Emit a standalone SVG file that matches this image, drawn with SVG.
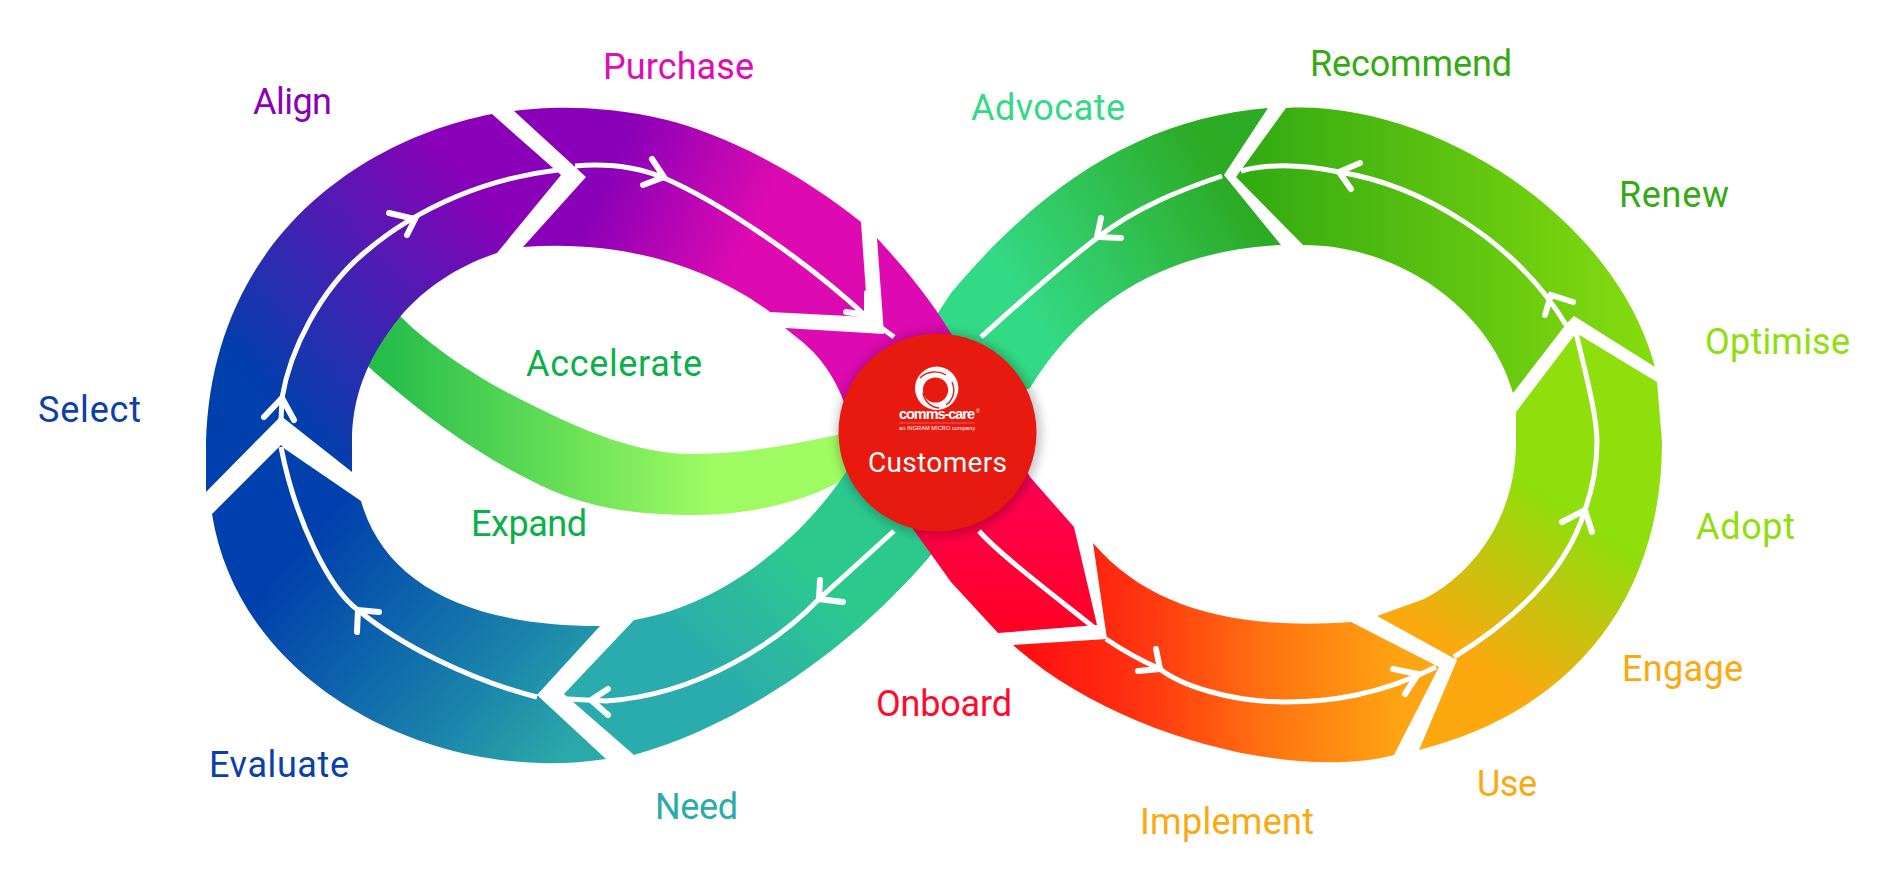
<svg xmlns="http://www.w3.org/2000/svg" width="1902" height="885" viewBox="0 0 1902 885">
<style>
.lbl{font-family:"Roboto","Liberation Sans",sans-serif;font-size:36px;font-weight:400}
.ln{fill:none;stroke:#fff;stroke-width:5;stroke-linecap:butt}
.ah{fill:none;stroke:#fff;stroke-width:6;stroke-linecap:round;stroke-linejoin:miter}
</style>
<defs>
<linearGradient id="gAlign" gradientUnits="userSpaceOnUse" x1="270" y1="400" x2="490" y2="200"><stop offset="0" stop-color="#0040ac"/><stop offset="1" stop-color="#8a00b8"/></linearGradient>
<linearGradient id="gPurch" gradientUnits="userSpaceOnUse" x1="610" y1="170" x2="750" y2="235"><stop offset="0" stop-color="#8a00b8"/><stop offset="1" stop-color="#dc0ab0"/></linearGradient>
<linearGradient id="gOnb" gradientUnits="userSpaceOnUse" x1="0" y1="400" x2="0" y2="630"><stop offset="0" stop-color="#dc0ab0"/><stop offset=".4" stop-color="#ff0050"/><stop offset="1" stop-color="#ff0026"/></linearGradient>
<linearGradient id="gImpl" gradientUnits="userSpaceOnUse" x1="1030" y1="0" x2="1400" y2="0"><stop offset="0" stop-color="#ff1010"/><stop offset=".3" stop-color="#ff3410"/><stop offset=".65" stop-color="#ff7410"/><stop offset="1" stop-color="#ffa412"/></linearGradient>
<linearGradient id="gEng" gradientUnits="userSpaceOnUse" x1="1440" y1="640" x2="1539" y2="489"><stop offset="0" stop-color="#fca910"/><stop offset="1" stop-color="#8edf0c"/></linearGradient>
<linearGradient id="gRec" gradientUnits="userSpaceOnUse" x1="1255" y1="0" x2="1640" y2="0"><stop offset="0" stop-color="#34ab12"/><stop offset="1" stop-color="#84da0e"/></linearGradient>
<linearGradient id="gAdv" gradientUnits="userSpaceOnUse" x1="1020" y1="300" x2="1220" y2="170"><stop offset="0" stop-color="#33da85"/><stop offset="1" stop-color="#2cab25"/></linearGradient>
<linearGradient id="gNeed" gradientUnits="userSpaceOnUse" x1="700" y1="660" x2="800" y2="560"><stop offset="0" stop-color="#2bacac"/><stop offset="1" stop-color="#2cc98f"/></linearGradient>
<linearGradient id="gEval" gradientUnits="userSpaceOnUse" x1="300" y1="550" x2="550" y2="770"><stop offset="0" stop-color="#0040ac"/><stop offset=".7" stop-color="#1b86ab"/><stop offset="1" stop-color="#2ba8a8"/></linearGradient>
<linearGradient id="gAcc" gradientUnits="userSpaceOnUse" x1="385" y1="0" x2="710" y2="0"><stop offset="0" stop-color="#26bd4a"/><stop offset="1" stop-color="#9efb62"/></linearGradient>
<filter id="blur" x="-20%" y="-20%" width="140%" height="140%"><feGaussianBlur stdDeviation="5"/></filter>
</defs>
<g id="accelerate-expand"><path fill="url(#gAcc)" d="M390 305C415 335 470 375 528 403C585 432 640 454 691 454C745 454 800 445 900 420L900 440L846 478C805 503 745 515 697 515C640 515 585 510 528 479C480 455 420 415 350 350Z"/></g>
<g id="advocate"><path fill="url(#gAdv)" d="M1268 108C1150 118 1050 175 951 293L930 325L937 432L1030 388C1090 290 1180 250 1281 245L1224 175Z"/></g>
<g id="need"><path fill="url(#gNeed)" d="M634 755C740 725 850 650 931 555L945 530L937 432L846 472C805 535 725 605 634 620L564 694Z"/></g>
<g id="align-select"><path fill="url(#gAlign)" d="M206 492L281 416L352 472L352 442C352 400 365 360 400 317C425 287 460 265 497 253L561 175L492 114C360 140 212 240 206 442Z"/></g>
<g id="purchase"><path fill="url(#gPurch)" d="M514 111C545 107 600 104 667 120C715 132 790 165 861 222L866 293L868 317L770 312C700 260 610 240 523 247L586 177Z"/></g>
<g id="onboard"><path fill="url(#gOnb)" d="M877 238C895 258 925 290 952 335L1030 477L1074 527L1097 625L998 633L951 582L913 529L846 407C837 383 825 360 800 340L785 328L884 334Z"/></g>
<g id="implement"><path fill="url(#gImpl)" d="M1093 543C1150 610 1240 630 1351 622L1439 667L1394 755C1300 780 1120 740 1013 645L1107 639Z"/></g>
<g id="engage-adopt"><path fill="url(#gEng)" d="M1419 750C1560 715 1662 610 1662 442L1657 382L1576 333L1516 412L1516 442C1516 510 1480 570 1424 599L1377 616L1457 660Z"/></g>
<g id="recommend-renew"><path fill="url(#gRec)" d="M1286 108C1430 100 1615 215 1655 367L1574 316L1567 323L1513 393C1490 310 1400 245 1303 245L1236 177Z"/></g>
<g id="evaluate"><path fill="url(#gEval)" d="M212 514L281 445L285 449L361 501C385 585 470 626 600 626L537 695L606 759C440 785 240 690 212 514Z"/></g>
<g id="connectors">
<path class="ln" d="M281 420L282 398C290 350 320 290 364 253C420 205 490 178 558 170"/>
<path class="ln" d="M575 166C610 163 640 168 664 178C715 200 800 255 868 318L894 337"/>
<path class="ln" d="M981 337C1000 320 1055 270 1097 238C1135 208 1180 190 1222 176"/>
<path class="ln" d="M1241 171C1270 163 1305 165 1339 172C1420 185 1515 240 1566 325"/>
<path class="ln" d="M1576 333C1590 390 1597 420 1597 442C1597 470 1592 490 1585 510C1570 560 1530 610 1454 657"/>
<path class="ln" d="M979 531C1000 555 1060 600 1102 634"/>
<path class="ln" d="M1106 639C1125 652 1140 660 1160 669C1180 685 1230 702 1285 702C1330 702 1380 695 1436 667"/>
<path class="ln" d="M894 531L819 599C780 640 700 695 606 701L567 699"/>
<path class="ln" d="M537 697C470 680 400 645 358 610C330 590 295 520 281 447"/>
<path class="ah" d="M389 213L415 219L407 235"/>
<path class="ah" d="M652 159L664 177L643 185"/>
<path class="ah" d="M264 417L282 398L294 420"/>
<path class="ah" d="M1101 218L1097 237L1121 238"/>
<path class="ah" d="M1360 163L1339 172L1351 189"/>
<path class="ah" d="M1573 302L1551 295L1545 315"/>
<path class="ah" d="M820 580L819 599L843 602"/>
<path class="ah" d="M608 689L591 700L608 715"/>
<path class="ah" d="M379 612L358 610L357 632"/>
<path class="ah" d="M1156 649L1160 669L1138 671"/>
<path class="ah" d="M1393 669L1418 674L1405 694"/>
<path class="ah" d="M1562 522L1585 510L1592 532"/>
<path class="ah" d="M846 312L867 315L867 293"/>
</g>
<g id="labels">
<text class="lbl" fill="#e00cb4" x="603" y="79" textLength="151">Purchase</text>
<text class="lbl" fill="#8a00b8" x="253" y="114" textLength="79">Align</text>
<text class="lbl" fill="#0a40ab" x="38" y="422" textLength="103">Select</text>
<text class="lbl" fill="#0ab04a" x="526" y="376" textLength="176">Accelerate</text>
<text class="lbl" fill="#0ab04a" x="471" y="536" textLength="116">Expand</text>
<text class="lbl" fill="#0a40ab" x="209" y="777" textLength="140">Evaluate</text>
<text class="lbl" fill="#2bacaa" x="655" y="819" textLength="83">Need</text>
<text class="lbl" fill="#ff0a2a" x="876" y="716" textLength="136">Onboard</text>
<text class="lbl" fill="#fca910" x="1140" y="834" textLength="174">Implement</text>
<text class="lbl" fill="#fca910" x="1477" y="796" textLength="60">Use</text>
<text class="lbl" fill="#fca910" x="1622" y="681" textLength="121">Engage</text>
<text class="lbl" fill="#8edf0c" x="1696" y="539" textLength="99">Adopt</text>
<text class="lbl" fill="#8edf0c" x="1705" y="354" textLength="145">Optimise</text>
<text class="lbl" fill="#34ab12" x="1619" y="207" textLength="110">Renew</text>
<text class="lbl" fill="#34ab12" x="1310" y="76" textLength="202">Recommend</text>
<text class="lbl" fill="#33d985" x="971" y="120" textLength="154">Advocate</text>
</g>
<g id="customers">
<circle cx="939" cy="434" r="103" fill="#000" opacity=".2" filter="url(#blur)"/>
<circle cx="937.5" cy="432.5" r="99" fill="#e81a10"/>
<circle cx="936.7" cy="388.3" r="21.7" fill="#fff"/>
<circle cx="935.5" cy="390" r="12.6" fill="#e81a10"/>
<path d="M920 378C927 371 938 370 946 375" fill="none" stroke="#e81a10" stroke-width="1.4"/>
<path d="M952 382C956 391 953 400 946 405" fill="none" stroke="#e81a10" stroke-width="1.4"/>
<path d="M923 393C925 402 931 407 939 408" fill="none" stroke="#e81a10" stroke-width="1.4"/>
<text x="899" y="419" font-family="'Liberation Sans',sans-serif" font-size="14.5" font-weight="700" fill="#fff" textLength="76">comms-care</text>
<text x="976" y="413" font-family="'Liberation Sans',sans-serif" font-size="5" fill="#fff">®</text>
<line x1="899" y1="423" x2="975" y2="423" stroke="#fff" stroke-width=".4" opacity=".7"/>
<text x="899" y="430" font-family="'Liberation Sans',sans-serif" font-size="5.6" fill="#fff" textLength="76">an INGRAM MICRO company</text>
<text x="868" y="472" font-family="Roboto,'Liberation Sans',sans-serif" font-size="28" fill="#fff" textLength="139">Customers</text>
</g>
</svg>
